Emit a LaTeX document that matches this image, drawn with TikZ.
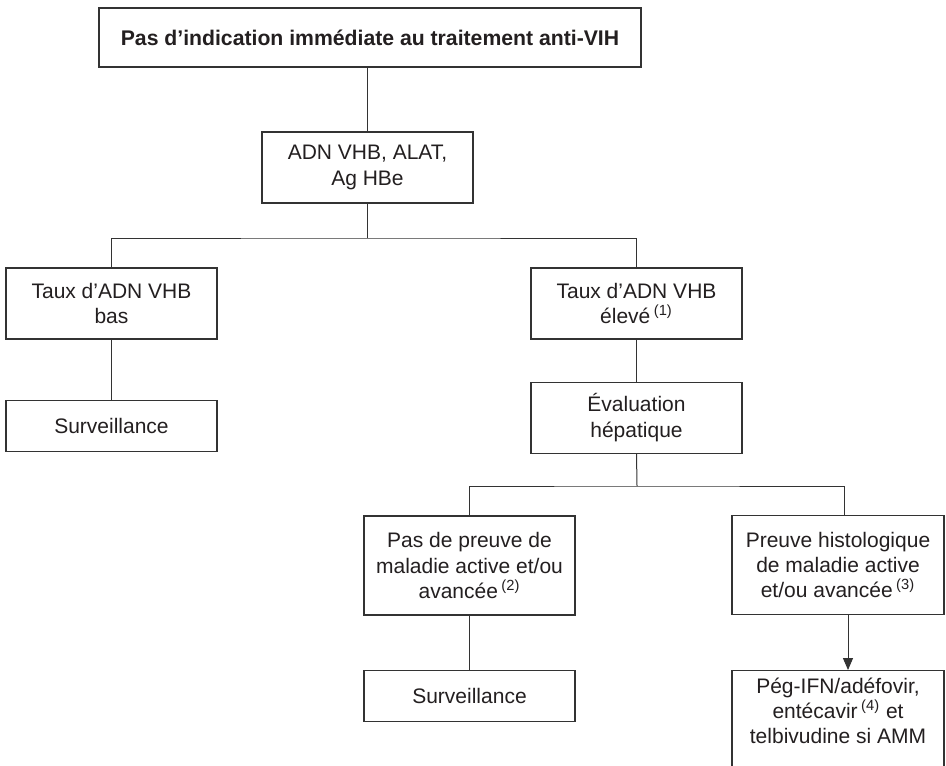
\documentclass[tikz,border=0pt]{standalone}
\usepackage{fontspec}
\setsansfont{Liberation Sans}
\usepackage{tikz}
\usetikzlibrary{arrows.meta,positioning}
\definecolor{ink}{HTML}{231F20}
\definecolor{rule}{HTML}{333333}
\newcommand{\fnref}[1]{\,\textsuperscript{(#1)}}
\tikzset{
  every node/.style={font=\sffamily},
  box/.style={draw=rule, line width=0.55pt, fill=white, align=center, inner sep=0pt, text=ink, minimum width=105.5pt, font=\sffamily\fontsize{10.5}{12.7}\selectfont},
  titlebox/.style={box, minimum width=271pt, minimum height=29.5pt, font=\sffamily\bfseries\fontsize{10.6}{13}\selectfont},
  onebox/.style={box, minimum height=25.5pt},
  twobox/.style={box, minimum height=35.5pt},
  threebox/.style={box, minimum height=49.5pt},
  link/.style={draw=rule, line width=0.5pt},
  arrow/.style={link, -{Triangle[length=6pt,width=5pt]}},
}

\begin{document}
\begin{tikzpicture}[x=0.5pt, y=-0.5pt]
\useasboundingbox (0,0) rectangle (946,765);
\node[titlebox] (top) at (370,37.5) {Pas d’indication immédiate au traitement anti-VIH};
\node[twobox] (adn) at (367.5,167.5) {ADN VHB, ALAT,\\Ag HBe};
\node[twobox] (tbas) at (111.5,303.5) {Taux d’ADN VHB\\bas};
\node[onebox, below=30pt of tbas] (surv1) {Surveillance};
\node[twobox] (televe) at (636.5,303.5) {Taux d’ADN VHB\\élevé\fnref{1}};
\node[twobox, below=21pt of televe] (eval) {Évaluation\\hépatique};
\node[threebox] (pas) at (469.5,565.5) {Pas de preuve de\\maladie active et/ou\\avancée\fnref{2}};
\node[onebox, below=27pt of pas] (surv2) {Surveillance};
\node[threebox, minimum width=106pt] (preuve) at (838,565) {Preuve histologique\\de maladie active\\et/ou avancée\fnref{3}};
\node[box, minimum width=106pt, inner ysep=3.5pt, below=27.5pt of preuve] (peg) {Pég-IFN/adéfovir,\\entécavir\fnref{4} et\\telbivudine si AMM\rule[-20pt]{0pt}{20pt}};

\coordinate (fork1) at (367.5,238);
\coordinate (fork2) at (637,486);
\draw[link] (top.south -| adn.north) -- (adn.north);
\draw[link] (adn.south) -- (fork1);
\draw[link] (tbas.north) |- (fork1) -| (televe.north);
\draw[link] (tbas) -- (surv1);
\draw[link] (televe) -- (eval);
\draw[link] (eval.south) -- (fork2);
\draw[link] (pas.north) |- (fork2) -| ([xshift=3pt]preuve.north);
\draw[link] (pas) -- (surv2);
\draw[arrow] ([xshift=5pt]preuve.south) -- ([xshift=5pt]peg.north);
\end{tikzpicture}
\end{document}
